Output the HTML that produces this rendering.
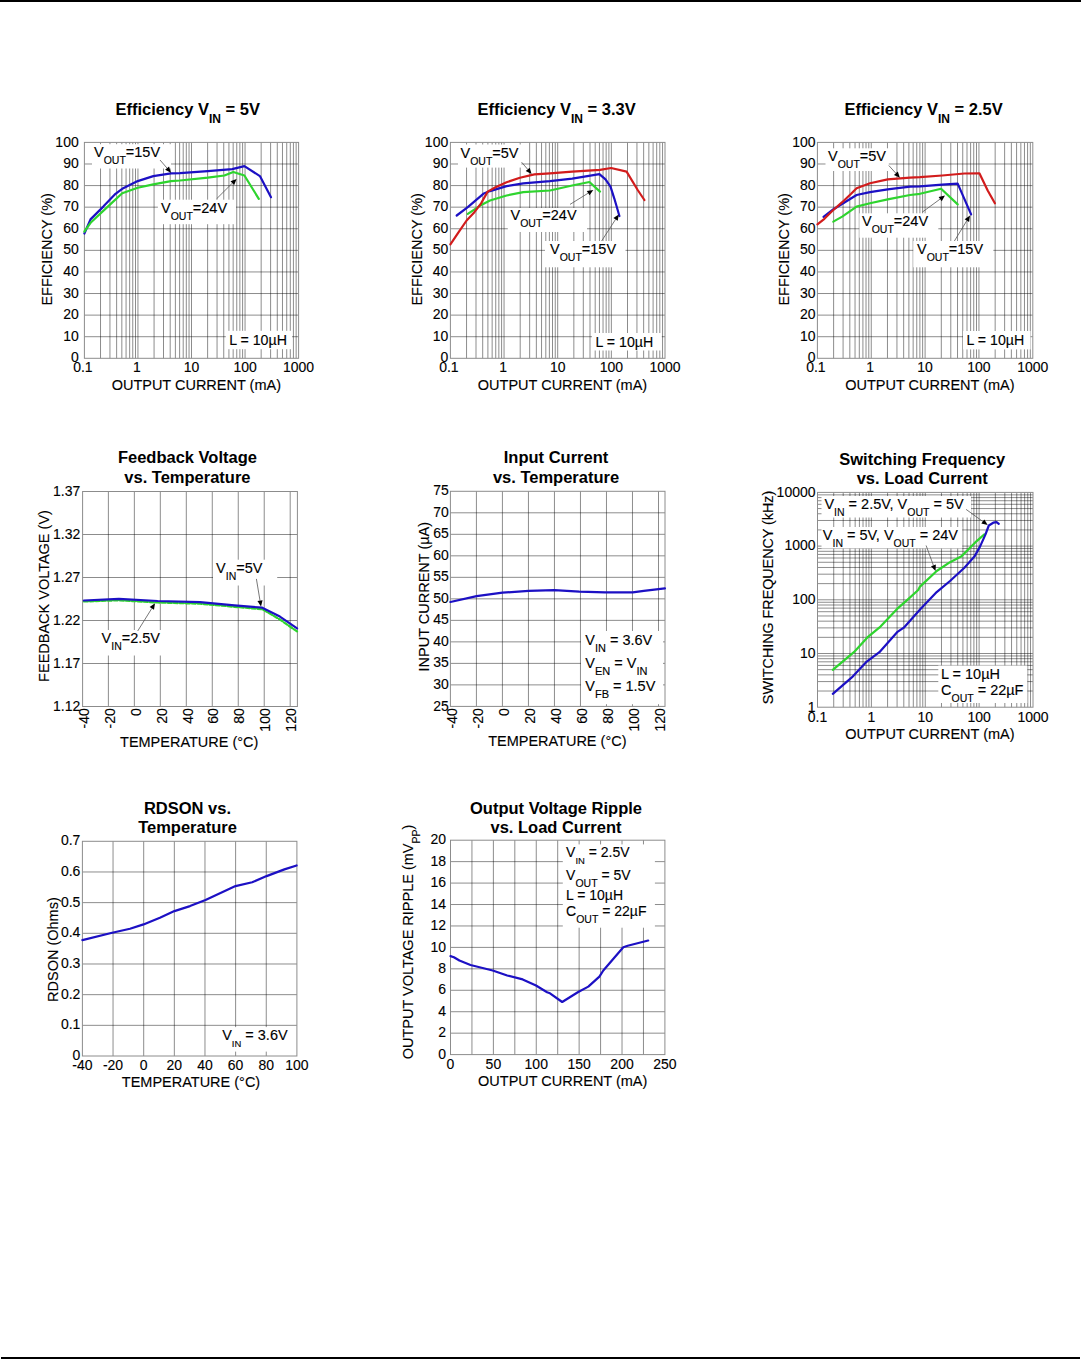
<!DOCTYPE html>
<html><head><meta charset="utf-8"><style>
html,body{margin:0;padding:0;background:#fff;}
body{width:1081px;height:1359px;overflow:hidden;}
svg{display:block;font-family:"Liberation Sans", sans-serif;}
</style></head><body>
<svg width="1081" height="1359" viewBox="0 0 1081 1359">
<rect width="100%" height="100%" fill="#fff"/>
<rect x="0" y="0" width="1081" height="2" fill="#000"/>
<rect x="1" y="1357" width="1079" height="2" fill="#000"/>
<line x1="100.52" y1="142.4" x2="100.52" y2="358.3" stroke="#000" stroke-opacity="0.45" stroke-width="1"/>
<line x1="109.95" y1="142.4" x2="109.95" y2="358.3" stroke="#000" stroke-opacity="0.45" stroke-width="1"/>
<line x1="116.64" y1="142.4" x2="116.64" y2="358.3" stroke="#000" stroke-opacity="0.45" stroke-width="1"/>
<line x1="121.83" y1="142.4" x2="121.83" y2="358.3" stroke="#000" stroke-opacity="0.45" stroke-width="1"/>
<line x1="126.07" y1="142.4" x2="126.07" y2="358.3" stroke="#000" stroke-opacity="0.45" stroke-width="1"/>
<line x1="129.66" y1="142.4" x2="129.66" y2="358.3" stroke="#000" stroke-opacity="0.45" stroke-width="1"/>
<line x1="132.76" y1="142.4" x2="132.76" y2="358.3" stroke="#000" stroke-opacity="0.45" stroke-width="1"/>
<line x1="135.5" y1="142.4" x2="135.5" y2="358.3" stroke="#000" stroke-opacity="0.45" stroke-width="1"/>
<line x1="137.95" y1="142.4" x2="137.95" y2="358.3" stroke="#000" stroke-opacity="0.45" stroke-width="1"/>
<line x1="154.07" y1="142.4" x2="154.07" y2="358.3" stroke="#000" stroke-opacity="0.45" stroke-width="1"/>
<line x1="163.5" y1="142.4" x2="163.5" y2="358.3" stroke="#000" stroke-opacity="0.45" stroke-width="1"/>
<line x1="170.19" y1="142.4" x2="170.19" y2="358.3" stroke="#000" stroke-opacity="0.45" stroke-width="1"/>
<line x1="175.38" y1="142.4" x2="175.38" y2="358.3" stroke="#000" stroke-opacity="0.45" stroke-width="1"/>
<line x1="179.62" y1="142.4" x2="179.62" y2="358.3" stroke="#000" stroke-opacity="0.45" stroke-width="1"/>
<line x1="183.21" y1="142.4" x2="183.21" y2="358.3" stroke="#000" stroke-opacity="0.45" stroke-width="1"/>
<line x1="186.31" y1="142.4" x2="186.31" y2="358.3" stroke="#000" stroke-opacity="0.45" stroke-width="1"/>
<line x1="189.05" y1="142.4" x2="189.05" y2="358.3" stroke="#000" stroke-opacity="0.45" stroke-width="1"/>
<line x1="191.5" y1="142.4" x2="191.5" y2="358.3" stroke="#000" stroke-opacity="0.45" stroke-width="1"/>
<line x1="207.62" y1="142.4" x2="207.62" y2="358.3" stroke="#000" stroke-opacity="0.45" stroke-width="1"/>
<line x1="217.05" y1="142.4" x2="217.05" y2="358.3" stroke="#000" stroke-opacity="0.45" stroke-width="1"/>
<line x1="223.74" y1="142.4" x2="223.74" y2="358.3" stroke="#000" stroke-opacity="0.45" stroke-width="1"/>
<line x1="228.93" y1="142.4" x2="228.93" y2="358.3" stroke="#000" stroke-opacity="0.45" stroke-width="1"/>
<line x1="233.17" y1="142.4" x2="233.17" y2="358.3" stroke="#000" stroke-opacity="0.45" stroke-width="1"/>
<line x1="236.76" y1="142.4" x2="236.76" y2="358.3" stroke="#000" stroke-opacity="0.45" stroke-width="1"/>
<line x1="239.86" y1="142.4" x2="239.86" y2="358.3" stroke="#000" stroke-opacity="0.45" stroke-width="1"/>
<line x1="242.6" y1="142.4" x2="242.6" y2="358.3" stroke="#000" stroke-opacity="0.45" stroke-width="1"/>
<line x1="245.05" y1="142.4" x2="245.05" y2="358.3" stroke="#000" stroke-opacity="0.45" stroke-width="1"/>
<line x1="261.17" y1="142.4" x2="261.17" y2="358.3" stroke="#000" stroke-opacity="0.45" stroke-width="1"/>
<line x1="270.6" y1="142.4" x2="270.6" y2="358.3" stroke="#000" stroke-opacity="0.45" stroke-width="1"/>
<line x1="277.29" y1="142.4" x2="277.29" y2="358.3" stroke="#000" stroke-opacity="0.45" stroke-width="1"/>
<line x1="282.48" y1="142.4" x2="282.48" y2="358.3" stroke="#000" stroke-opacity="0.45" stroke-width="1"/>
<line x1="286.72" y1="142.4" x2="286.72" y2="358.3" stroke="#000" stroke-opacity="0.45" stroke-width="1"/>
<line x1="290.31" y1="142.4" x2="290.31" y2="358.3" stroke="#000" stroke-opacity="0.45" stroke-width="1"/>
<line x1="293.41" y1="142.4" x2="293.41" y2="358.3" stroke="#000" stroke-opacity="0.45" stroke-width="1"/>
<line x1="296.15" y1="142.4" x2="296.15" y2="358.3" stroke="#000" stroke-opacity="0.45" stroke-width="1"/>
<line x1="84.4" y1="336.71" x2="298.6" y2="336.71" stroke="#000" stroke-opacity="0.45" stroke-width="1"/>
<line x1="84.4" y1="315.12" x2="298.6" y2="315.12" stroke="#000" stroke-opacity="0.45" stroke-width="1"/>
<line x1="84.4" y1="293.53" x2="298.6" y2="293.53" stroke="#000" stroke-opacity="0.45" stroke-width="1"/>
<line x1="84.4" y1="271.94" x2="298.6" y2="271.94" stroke="#000" stroke-opacity="0.45" stroke-width="1"/>
<line x1="84.4" y1="250.35" x2="298.6" y2="250.35" stroke="#000" stroke-opacity="0.45" stroke-width="1"/>
<line x1="84.4" y1="228.76" x2="298.6" y2="228.76" stroke="#000" stroke-opacity="0.45" stroke-width="1"/>
<line x1="84.4" y1="207.17" x2="298.6" y2="207.17" stroke="#000" stroke-opacity="0.45" stroke-width="1"/>
<line x1="84.4" y1="185.58" x2="298.6" y2="185.58" stroke="#000" stroke-opacity="0.45" stroke-width="1"/>
<line x1="84.4" y1="163.99" x2="298.6" y2="163.99" stroke="#000" stroke-opacity="0.45" stroke-width="1"/>
<rect x="84.4" y="142.4" width="214.2" height="215.9" fill="none" stroke="#8c8c8c" stroke-width="1"/>
<text x="0" y="0" font-size="14" text-anchor="end" font-weight="normal" fill="#000" stroke="#000" stroke-width="0.12" transform="translate(78.7 361.6) scale(1 1.04)"><tspan>0</tspan></text>
<text x="0" y="0" font-size="14" text-anchor="end" font-weight="normal" fill="#000" stroke="#000" stroke-width="0.12" transform="translate(78.7 340.81) scale(1 1.04)"><tspan>10</tspan></text>
<text x="0" y="0" font-size="14" text-anchor="end" font-weight="normal" fill="#000" stroke="#000" stroke-width="0.12" transform="translate(78.7 319.22) scale(1 1.04)"><tspan>20</tspan></text>
<text x="0" y="0" font-size="14" text-anchor="end" font-weight="normal" fill="#000" stroke="#000" stroke-width="0.12" transform="translate(78.7 297.63) scale(1 1.04)"><tspan>30</tspan></text>
<text x="0" y="0" font-size="14" text-anchor="end" font-weight="normal" fill="#000" stroke="#000" stroke-width="0.12" transform="translate(78.7 276.04) scale(1 1.04)"><tspan>40</tspan></text>
<text x="0" y="0" font-size="14" text-anchor="end" font-weight="normal" fill="#000" stroke="#000" stroke-width="0.12" transform="translate(78.7 254.45) scale(1 1.04)"><tspan>50</tspan></text>
<text x="0" y="0" font-size="14" text-anchor="end" font-weight="normal" fill="#000" stroke="#000" stroke-width="0.12" transform="translate(78.7 232.86) scale(1 1.04)"><tspan>60</tspan></text>
<text x="0" y="0" font-size="14" text-anchor="end" font-weight="normal" fill="#000" stroke="#000" stroke-width="0.12" transform="translate(78.7 211.27) scale(1 1.04)"><tspan>70</tspan></text>
<text x="0" y="0" font-size="14" text-anchor="end" font-weight="normal" fill="#000" stroke="#000" stroke-width="0.12" transform="translate(78.7 189.68) scale(1 1.04)"><tspan>80</tspan></text>
<text x="0" y="0" font-size="14" text-anchor="end" font-weight="normal" fill="#000" stroke="#000" stroke-width="0.12" transform="translate(78.7 168.09) scale(1 1.04)"><tspan>90</tspan></text>
<text x="0" y="0" font-size="14" text-anchor="end" font-weight="normal" fill="#000" stroke="#000" stroke-width="0.12" transform="translate(78.7 146.5) scale(1 1.04)"><tspan>100</tspan></text>
<text x="0" y="0" font-size="14" text-anchor="middle" font-weight="normal" fill="#000" stroke="#000" stroke-width="0.12" transform="translate(82.9 372.2) scale(1 1.04)"><tspan>0.1</tspan></text>
<text x="0" y="0" font-size="14" text-anchor="middle" font-weight="normal" fill="#000" stroke="#000" stroke-width="0.12" transform="translate(136.95 372.2) scale(1 1.04)"><tspan>1</tspan></text>
<text x="0" y="0" font-size="14" text-anchor="middle" font-weight="normal" fill="#000" stroke="#000" stroke-width="0.12" transform="translate(191.5 372.2) scale(1 1.04)"><tspan>10</tspan></text>
<text x="0" y="0" font-size="14" text-anchor="middle" font-weight="normal" fill="#000" stroke="#000" stroke-width="0.12" transform="translate(245.05 372.2) scale(1 1.04)"><tspan>100</tspan></text>
<text x="0" y="0" font-size="14" text-anchor="middle" font-weight="normal" fill="#000" stroke="#000" stroke-width="0.12" transform="translate(298.6 372.2) scale(1 1.04)"><tspan>1000</tspan></text>
<text x="0" y="0" font-size="14.5" text-anchor="middle" font-weight="normal" fill="#000" stroke="#000" stroke-width="0.12" transform="translate(196.3 389.6) scale(1 1.04)"><tspan>OUTPUT CURRENT (mA)</tspan></text>
<text x="0" y="0" font-size="14.5" text-anchor="middle" font-weight="normal" fill="#000" stroke="#000" stroke-width="0.12" transform="translate(51.6 249.35) rotate(-90) scale(1 1.04)"><tspan>EFFICIENCY (%)</tspan></text>
<text x="0" y="0" font-size="16.5" text-anchor="start" font-weight="bold" fill="#000" transform="translate(115.5 114.5) scale(1 1.04)"><tspan>Efficiency V</tspan><tspan font-size="12" dy="8">IN</tspan><tspan dy="-8"> = 5V</tspan></text>
<rect x="92" y="144.2" width="79" height="24.3" fill="#fff"/>
<rect x="157.9" y="199.7" width="78.1" height="24.5" fill="#fff"/>
<polyline points="84.4,233.5 90.5,219.4 103.3,206.6 115.5,193.8 122.2,188.8 137.7,181.1 153.3,176.1 171,173.3 180,173.1 207.8,171.1 232.2,169.1 244.4,166.1 259.9,176.1 271,197.2" fill="none" stroke="#1c10c4" stroke-width="2.2" stroke-linejoin="round" stroke-linecap="round"/>
<polyline points="84.4,231.5 91.1,222.2 107.8,206.6 122.2,193.3 137.7,187.8 153.3,184.4 171,181.1 180,180.5 207.8,177.7 224.4,175.5 233.3,172 244.4,175.5 258.8,198.8" fill="none" stroke="#2ed42e" stroke-width="2.2" stroke-linejoin="round" stroke-linecap="round"/>
<line x1="160" y1="160" x2="167.07" y2="168.16" stroke="#555" stroke-width="0.8"/>
<polygon points="171,172.7 165.11,169.87 169.04,166.46" fill="#000"/>
<line x1="216.6" y1="198.8" x2="232.35" y2="183.13" stroke="#555" stroke-width="0.8"/>
<polygon points="236.6,178.9 234.18,184.98 230.51,181.29" fill="#000"/>
<text x="0" y="0" font-size="14.5" text-anchor="start" font-weight="normal" fill="#000" stroke="#000" stroke-width="0.12" transform="translate(94 157.2) scale(1 1.04)"><tspan>V</tspan><tspan font-size="10.5" dy="6.8">OUT</tspan><tspan dy="-6.8">=15V</tspan></text>
<text x="0" y="0" font-size="14.5" text-anchor="start" font-weight="normal" fill="#000" stroke="#000" stroke-width="0.12" transform="translate(161 212.7) scale(1 1.04)"><tspan>V</tspan><tspan font-size="10.5" dy="6.8">OUT</tspan><tspan dy="-6.8">=24V</tspan></text>
<line x1="466.55" y1="142.4" x2="466.55" y2="358.3" stroke="#000" stroke-opacity="0.45" stroke-width="1"/>
<line x1="476" y1="142.4" x2="476" y2="358.3" stroke="#000" stroke-opacity="0.45" stroke-width="1"/>
<line x1="482.7" y1="142.4" x2="482.7" y2="358.3" stroke="#000" stroke-opacity="0.45" stroke-width="1"/>
<line x1="487.9" y1="142.4" x2="487.9" y2="358.3" stroke="#000" stroke-opacity="0.45" stroke-width="1"/>
<line x1="492.15" y1="142.4" x2="492.15" y2="358.3" stroke="#000" stroke-opacity="0.45" stroke-width="1"/>
<line x1="495.74" y1="142.4" x2="495.74" y2="358.3" stroke="#000" stroke-opacity="0.45" stroke-width="1"/>
<line x1="498.85" y1="142.4" x2="498.85" y2="358.3" stroke="#000" stroke-opacity="0.45" stroke-width="1"/>
<line x1="501.6" y1="142.4" x2="501.6" y2="358.3" stroke="#000" stroke-opacity="0.45" stroke-width="1"/>
<line x1="504.05" y1="142.4" x2="504.05" y2="358.3" stroke="#000" stroke-opacity="0.45" stroke-width="1"/>
<line x1="520.2" y1="142.4" x2="520.2" y2="358.3" stroke="#000" stroke-opacity="0.45" stroke-width="1"/>
<line x1="529.65" y1="142.4" x2="529.65" y2="358.3" stroke="#000" stroke-opacity="0.45" stroke-width="1"/>
<line x1="536.35" y1="142.4" x2="536.35" y2="358.3" stroke="#000" stroke-opacity="0.45" stroke-width="1"/>
<line x1="541.55" y1="142.4" x2="541.55" y2="358.3" stroke="#000" stroke-opacity="0.45" stroke-width="1"/>
<line x1="545.8" y1="142.4" x2="545.8" y2="358.3" stroke="#000" stroke-opacity="0.45" stroke-width="1"/>
<line x1="549.39" y1="142.4" x2="549.39" y2="358.3" stroke="#000" stroke-opacity="0.45" stroke-width="1"/>
<line x1="552.5" y1="142.4" x2="552.5" y2="358.3" stroke="#000" stroke-opacity="0.45" stroke-width="1"/>
<line x1="555.25" y1="142.4" x2="555.25" y2="358.3" stroke="#000" stroke-opacity="0.45" stroke-width="1"/>
<line x1="557.7" y1="142.4" x2="557.7" y2="358.3" stroke="#000" stroke-opacity="0.45" stroke-width="1"/>
<line x1="573.85" y1="142.4" x2="573.85" y2="358.3" stroke="#000" stroke-opacity="0.45" stroke-width="1"/>
<line x1="583.3" y1="142.4" x2="583.3" y2="358.3" stroke="#000" stroke-opacity="0.45" stroke-width="1"/>
<line x1="590" y1="142.4" x2="590" y2="358.3" stroke="#000" stroke-opacity="0.45" stroke-width="1"/>
<line x1="595.2" y1="142.4" x2="595.2" y2="358.3" stroke="#000" stroke-opacity="0.45" stroke-width="1"/>
<line x1="599.45" y1="142.4" x2="599.45" y2="358.3" stroke="#000" stroke-opacity="0.45" stroke-width="1"/>
<line x1="603.04" y1="142.4" x2="603.04" y2="358.3" stroke="#000" stroke-opacity="0.45" stroke-width="1"/>
<line x1="606.15" y1="142.4" x2="606.15" y2="358.3" stroke="#000" stroke-opacity="0.45" stroke-width="1"/>
<line x1="608.9" y1="142.4" x2="608.9" y2="358.3" stroke="#000" stroke-opacity="0.45" stroke-width="1"/>
<line x1="611.35" y1="142.4" x2="611.35" y2="358.3" stroke="#000" stroke-opacity="0.45" stroke-width="1"/>
<line x1="627.5" y1="142.4" x2="627.5" y2="358.3" stroke="#000" stroke-opacity="0.45" stroke-width="1"/>
<line x1="636.95" y1="142.4" x2="636.95" y2="358.3" stroke="#000" stroke-opacity="0.45" stroke-width="1"/>
<line x1="643.65" y1="142.4" x2="643.65" y2="358.3" stroke="#000" stroke-opacity="0.45" stroke-width="1"/>
<line x1="648.85" y1="142.4" x2="648.85" y2="358.3" stroke="#000" stroke-opacity="0.45" stroke-width="1"/>
<line x1="653.1" y1="142.4" x2="653.1" y2="358.3" stroke="#000" stroke-opacity="0.45" stroke-width="1"/>
<line x1="656.69" y1="142.4" x2="656.69" y2="358.3" stroke="#000" stroke-opacity="0.45" stroke-width="1"/>
<line x1="659.8" y1="142.4" x2="659.8" y2="358.3" stroke="#000" stroke-opacity="0.45" stroke-width="1"/>
<line x1="662.55" y1="142.4" x2="662.55" y2="358.3" stroke="#000" stroke-opacity="0.45" stroke-width="1"/>
<line x1="450.4" y1="336.71" x2="665" y2="336.71" stroke="#000" stroke-opacity="0.45" stroke-width="1"/>
<line x1="450.4" y1="315.12" x2="665" y2="315.12" stroke="#000" stroke-opacity="0.45" stroke-width="1"/>
<line x1="450.4" y1="293.53" x2="665" y2="293.53" stroke="#000" stroke-opacity="0.45" stroke-width="1"/>
<line x1="450.4" y1="271.94" x2="665" y2="271.94" stroke="#000" stroke-opacity="0.45" stroke-width="1"/>
<line x1="450.4" y1="250.35" x2="665" y2="250.35" stroke="#000" stroke-opacity="0.45" stroke-width="1"/>
<line x1="450.4" y1="228.76" x2="665" y2="228.76" stroke="#000" stroke-opacity="0.45" stroke-width="1"/>
<line x1="450.4" y1="207.17" x2="665" y2="207.17" stroke="#000" stroke-opacity="0.45" stroke-width="1"/>
<line x1="450.4" y1="185.58" x2="665" y2="185.58" stroke="#000" stroke-opacity="0.45" stroke-width="1"/>
<line x1="450.4" y1="163.99" x2="665" y2="163.99" stroke="#000" stroke-opacity="0.45" stroke-width="1"/>
<rect x="450.4" y="142.4" width="214.6" height="215.9" fill="none" stroke="#8c8c8c" stroke-width="1"/>
<text x="0" y="0" font-size="14" text-anchor="end" font-weight="normal" fill="#000" stroke="#000" stroke-width="0.12" transform="translate(448.2 361.6) scale(1 1.04)"><tspan>0</tspan></text>
<text x="0" y="0" font-size="14" text-anchor="end" font-weight="normal" fill="#000" stroke="#000" stroke-width="0.12" transform="translate(448.2 340.81) scale(1 1.04)"><tspan>10</tspan></text>
<text x="0" y="0" font-size="14" text-anchor="end" font-weight="normal" fill="#000" stroke="#000" stroke-width="0.12" transform="translate(448.2 319.22) scale(1 1.04)"><tspan>20</tspan></text>
<text x="0" y="0" font-size="14" text-anchor="end" font-weight="normal" fill="#000" stroke="#000" stroke-width="0.12" transform="translate(448.2 297.63) scale(1 1.04)"><tspan>30</tspan></text>
<text x="0" y="0" font-size="14" text-anchor="end" font-weight="normal" fill="#000" stroke="#000" stroke-width="0.12" transform="translate(448.2 276.04) scale(1 1.04)"><tspan>40</tspan></text>
<text x="0" y="0" font-size="14" text-anchor="end" font-weight="normal" fill="#000" stroke="#000" stroke-width="0.12" transform="translate(448.2 254.45) scale(1 1.04)"><tspan>50</tspan></text>
<text x="0" y="0" font-size="14" text-anchor="end" font-weight="normal" fill="#000" stroke="#000" stroke-width="0.12" transform="translate(448.2 232.86) scale(1 1.04)"><tspan>60</tspan></text>
<text x="0" y="0" font-size="14" text-anchor="end" font-weight="normal" fill="#000" stroke="#000" stroke-width="0.12" transform="translate(448.2 211.27) scale(1 1.04)"><tspan>70</tspan></text>
<text x="0" y="0" font-size="14" text-anchor="end" font-weight="normal" fill="#000" stroke="#000" stroke-width="0.12" transform="translate(448.2 189.68) scale(1 1.04)"><tspan>80</tspan></text>
<text x="0" y="0" font-size="14" text-anchor="end" font-weight="normal" fill="#000" stroke="#000" stroke-width="0.12" transform="translate(448.2 168.09) scale(1 1.04)"><tspan>90</tspan></text>
<text x="0" y="0" font-size="14" text-anchor="end" font-weight="normal" fill="#000" stroke="#000" stroke-width="0.12" transform="translate(448.2 146.5) scale(1 1.04)"><tspan>100</tspan></text>
<text x="0" y="0" font-size="14" text-anchor="middle" font-weight="normal" fill="#000" stroke="#000" stroke-width="0.12" transform="translate(448.9 372.2) scale(1 1.04)"><tspan>0.1</tspan></text>
<text x="0" y="0" font-size="14" text-anchor="middle" font-weight="normal" fill="#000" stroke="#000" stroke-width="0.12" transform="translate(503.05 372.2) scale(1 1.04)"><tspan>1</tspan></text>
<text x="0" y="0" font-size="14" text-anchor="middle" font-weight="normal" fill="#000" stroke="#000" stroke-width="0.12" transform="translate(557.7 372.2) scale(1 1.04)"><tspan>10</tspan></text>
<text x="0" y="0" font-size="14" text-anchor="middle" font-weight="normal" fill="#000" stroke="#000" stroke-width="0.12" transform="translate(611.35 372.2) scale(1 1.04)"><tspan>100</tspan></text>
<text x="0" y="0" font-size="14" text-anchor="middle" font-weight="normal" fill="#000" stroke="#000" stroke-width="0.12" transform="translate(665 372.2) scale(1 1.04)"><tspan>1000</tspan></text>
<text x="0" y="0" font-size="14.5" text-anchor="middle" font-weight="normal" fill="#000" stroke="#000" stroke-width="0.12" transform="translate(562.5 389.6) scale(1 1.04)"><tspan>OUTPUT CURRENT (mA)</tspan></text>
<text x="0" y="0" font-size="14.5" text-anchor="middle" font-weight="normal" fill="#000" stroke="#000" stroke-width="0.12" transform="translate(421.6 249.35) rotate(-90) scale(1 1.04)"><tspan>EFFICIENCY (%)</tspan></text>
<text x="0" y="0" font-size="16.5" text-anchor="start" font-weight="bold" fill="#000" transform="translate(477.5 115) scale(1 1.04)"><tspan>Efficiency V</tspan><tspan font-size="12" dy="8">IN</tspan><tspan dy="-8"> = 3.3V</tspan></text>
<rect x="458" y="144.5" width="63.3" height="23.1" fill="#fff"/>
<rect x="507.8" y="208" width="79.2" height="24" fill="#fff"/>
<rect x="545" y="241" width="80.5" height="26.3" fill="#fff"/>
<polyline points="456.7,215.5 467.8,207.2 483.3,193.8 490,191.1 506.6,186.1 523.3,183.3 550,181.1 572.2,178.6 599.4,174.1 605.5,179.4 610.5,186.6 614.4,198.8 619.4,216" fill="none" stroke="#1c10c4" stroke-width="2.2" stroke-linejoin="round" stroke-linecap="round"/>
<polyline points="467.8,213.8 482.2,204.4 490,200.5 506.6,195.5 523.3,192.2 550,190.5 572.2,185.5 589.4,182 600,191.6" fill="none" stroke="#2ed42e" stroke-width="2.2" stroke-linejoin="round" stroke-linecap="round"/>
<polyline points="450.4,244.4 457.8,233.3 466.6,220.5 474.4,212.2 481.1,203.3 487.7,191.6 495.5,187.2 506.6,182.2 519.9,177.7 534.4,174.4 550,173.3 572.2,171.6 600,169.8 611.1,168 626.6,171.6 637.7,190 644.4,200" fill="none" stroke="#d21c1c" stroke-width="2.2" stroke-linejoin="round" stroke-linecap="round"/>
<line x1="521.6" y1="162.2" x2="527.7" y2="169.34" stroke="#555" stroke-width="0.8"/>
<polygon points="531.6,173.9 525.73,171.03 529.68,167.65" fill="#000"/>
<line x1="570" y1="204.4" x2="588.2" y2="193.15" stroke="#555" stroke-width="0.8"/>
<polygon points="593.3,190 589.56,195.37 586.83,190.94" fill="#000"/>
<line x1="601.6" y1="241" x2="615.54" y2="219.44" stroke="#555" stroke-width="0.8"/>
<polygon points="618.8,214.4 617.73,220.85 613.36,218.03" fill="#000"/>
<text x="0" y="0" font-size="14.5" text-anchor="start" font-weight="normal" fill="#000" stroke="#000" stroke-width="0.12" transform="translate(460.5 157.8) scale(1 1.04)"><tspan>V</tspan><tspan font-size="10.5" dy="6.8">OUT</tspan><tspan dy="-6.8">=5V</tspan></text>
<text x="0" y="0" font-size="14.5" text-anchor="start" font-weight="normal" fill="#000" stroke="#000" stroke-width="0.12" transform="translate(510.5 219.5) scale(1 1.04)"><tspan>V</tspan><tspan font-size="10.5" dy="6.8">OUT</tspan><tspan dy="-6.8">=24V</tspan></text>
<text x="0" y="0" font-size="14.5" text-anchor="start" font-weight="normal" fill="#000" stroke="#000" stroke-width="0.12" transform="translate(550 254) scale(1 1.04)"><tspan>V</tspan><tspan font-size="10.5" dy="6.8">OUT</tspan><tspan dy="-6.8">=15V</tspan></text>
<line x1="833.61" y1="142.4" x2="833.61" y2="358.3" stroke="#000" stroke-opacity="0.45" stroke-width="1"/>
<line x1="843.09" y1="142.4" x2="843.09" y2="358.3" stroke="#000" stroke-opacity="0.45" stroke-width="1"/>
<line x1="849.82" y1="142.4" x2="849.82" y2="358.3" stroke="#000" stroke-opacity="0.45" stroke-width="1"/>
<line x1="855.04" y1="142.4" x2="855.04" y2="358.3" stroke="#000" stroke-opacity="0.45" stroke-width="1"/>
<line x1="859.3" y1="142.4" x2="859.3" y2="358.3" stroke="#000" stroke-opacity="0.45" stroke-width="1"/>
<line x1="862.91" y1="142.4" x2="862.91" y2="358.3" stroke="#000" stroke-opacity="0.45" stroke-width="1"/>
<line x1="866.03" y1="142.4" x2="866.03" y2="358.3" stroke="#000" stroke-opacity="0.45" stroke-width="1"/>
<line x1="868.79" y1="142.4" x2="868.79" y2="358.3" stroke="#000" stroke-opacity="0.45" stroke-width="1"/>
<line x1="871.25" y1="142.4" x2="871.25" y2="358.3" stroke="#000" stroke-opacity="0.45" stroke-width="1"/>
<line x1="887.46" y1="142.4" x2="887.46" y2="358.3" stroke="#000" stroke-opacity="0.45" stroke-width="1"/>
<line x1="896.94" y1="142.4" x2="896.94" y2="358.3" stroke="#000" stroke-opacity="0.45" stroke-width="1"/>
<line x1="903.67" y1="142.4" x2="903.67" y2="358.3" stroke="#000" stroke-opacity="0.45" stroke-width="1"/>
<line x1="908.89" y1="142.4" x2="908.89" y2="358.3" stroke="#000" stroke-opacity="0.45" stroke-width="1"/>
<line x1="913.15" y1="142.4" x2="913.15" y2="358.3" stroke="#000" stroke-opacity="0.45" stroke-width="1"/>
<line x1="916.76" y1="142.4" x2="916.76" y2="358.3" stroke="#000" stroke-opacity="0.45" stroke-width="1"/>
<line x1="919.88" y1="142.4" x2="919.88" y2="358.3" stroke="#000" stroke-opacity="0.45" stroke-width="1"/>
<line x1="922.64" y1="142.4" x2="922.64" y2="358.3" stroke="#000" stroke-opacity="0.45" stroke-width="1"/>
<line x1="925.1" y1="142.4" x2="925.1" y2="358.3" stroke="#000" stroke-opacity="0.45" stroke-width="1"/>
<line x1="941.31" y1="142.4" x2="941.31" y2="358.3" stroke="#000" stroke-opacity="0.45" stroke-width="1"/>
<line x1="950.79" y1="142.4" x2="950.79" y2="358.3" stroke="#000" stroke-opacity="0.45" stroke-width="1"/>
<line x1="957.52" y1="142.4" x2="957.52" y2="358.3" stroke="#000" stroke-opacity="0.45" stroke-width="1"/>
<line x1="962.74" y1="142.4" x2="962.74" y2="358.3" stroke="#000" stroke-opacity="0.45" stroke-width="1"/>
<line x1="967" y1="142.4" x2="967" y2="358.3" stroke="#000" stroke-opacity="0.45" stroke-width="1"/>
<line x1="970.61" y1="142.4" x2="970.61" y2="358.3" stroke="#000" stroke-opacity="0.45" stroke-width="1"/>
<line x1="973.73" y1="142.4" x2="973.73" y2="358.3" stroke="#000" stroke-opacity="0.45" stroke-width="1"/>
<line x1="976.49" y1="142.4" x2="976.49" y2="358.3" stroke="#000" stroke-opacity="0.45" stroke-width="1"/>
<line x1="978.95" y1="142.4" x2="978.95" y2="358.3" stroke="#000" stroke-opacity="0.45" stroke-width="1"/>
<line x1="995.16" y1="142.4" x2="995.16" y2="358.3" stroke="#000" stroke-opacity="0.45" stroke-width="1"/>
<line x1="1004.64" y1="142.4" x2="1004.64" y2="358.3" stroke="#000" stroke-opacity="0.45" stroke-width="1"/>
<line x1="1011.37" y1="142.4" x2="1011.37" y2="358.3" stroke="#000" stroke-opacity="0.45" stroke-width="1"/>
<line x1="1016.59" y1="142.4" x2="1016.59" y2="358.3" stroke="#000" stroke-opacity="0.45" stroke-width="1"/>
<line x1="1020.85" y1="142.4" x2="1020.85" y2="358.3" stroke="#000" stroke-opacity="0.45" stroke-width="1"/>
<line x1="1024.46" y1="142.4" x2="1024.46" y2="358.3" stroke="#000" stroke-opacity="0.45" stroke-width="1"/>
<line x1="1027.58" y1="142.4" x2="1027.58" y2="358.3" stroke="#000" stroke-opacity="0.45" stroke-width="1"/>
<line x1="1030.34" y1="142.4" x2="1030.34" y2="358.3" stroke="#000" stroke-opacity="0.45" stroke-width="1"/>
<line x1="817.4" y1="336.71" x2="1032.8" y2="336.71" stroke="#000" stroke-opacity="0.45" stroke-width="1"/>
<line x1="817.4" y1="315.12" x2="1032.8" y2="315.12" stroke="#000" stroke-opacity="0.45" stroke-width="1"/>
<line x1="817.4" y1="293.53" x2="1032.8" y2="293.53" stroke="#000" stroke-opacity="0.45" stroke-width="1"/>
<line x1="817.4" y1="271.94" x2="1032.8" y2="271.94" stroke="#000" stroke-opacity="0.45" stroke-width="1"/>
<line x1="817.4" y1="250.35" x2="1032.8" y2="250.35" stroke="#000" stroke-opacity="0.45" stroke-width="1"/>
<line x1="817.4" y1="228.76" x2="1032.8" y2="228.76" stroke="#000" stroke-opacity="0.45" stroke-width="1"/>
<line x1="817.4" y1="207.17" x2="1032.8" y2="207.17" stroke="#000" stroke-opacity="0.45" stroke-width="1"/>
<line x1="817.4" y1="185.58" x2="1032.8" y2="185.58" stroke="#000" stroke-opacity="0.45" stroke-width="1"/>
<line x1="817.4" y1="163.99" x2="1032.8" y2="163.99" stroke="#000" stroke-opacity="0.45" stroke-width="1"/>
<rect x="817.4" y="142.4" width="215.4" height="215.9" fill="none" stroke="#8c8c8c" stroke-width="1"/>
<text x="0" y="0" font-size="14" text-anchor="end" font-weight="normal" fill="#000" stroke="#000" stroke-width="0.12" transform="translate(815.5 361.6) scale(1 1.04)"><tspan>0</tspan></text>
<text x="0" y="0" font-size="14" text-anchor="end" font-weight="normal" fill="#000" stroke="#000" stroke-width="0.12" transform="translate(815.5 340.81) scale(1 1.04)"><tspan>10</tspan></text>
<text x="0" y="0" font-size="14" text-anchor="end" font-weight="normal" fill="#000" stroke="#000" stroke-width="0.12" transform="translate(815.5 319.22) scale(1 1.04)"><tspan>20</tspan></text>
<text x="0" y="0" font-size="14" text-anchor="end" font-weight="normal" fill="#000" stroke="#000" stroke-width="0.12" transform="translate(815.5 297.63) scale(1 1.04)"><tspan>30</tspan></text>
<text x="0" y="0" font-size="14" text-anchor="end" font-weight="normal" fill="#000" stroke="#000" stroke-width="0.12" transform="translate(815.5 276.04) scale(1 1.04)"><tspan>40</tspan></text>
<text x="0" y="0" font-size="14" text-anchor="end" font-weight="normal" fill="#000" stroke="#000" stroke-width="0.12" transform="translate(815.5 254.45) scale(1 1.04)"><tspan>50</tspan></text>
<text x="0" y="0" font-size="14" text-anchor="end" font-weight="normal" fill="#000" stroke="#000" stroke-width="0.12" transform="translate(815.5 232.86) scale(1 1.04)"><tspan>60</tspan></text>
<text x="0" y="0" font-size="14" text-anchor="end" font-weight="normal" fill="#000" stroke="#000" stroke-width="0.12" transform="translate(815.5 211.27) scale(1 1.04)"><tspan>70</tspan></text>
<text x="0" y="0" font-size="14" text-anchor="end" font-weight="normal" fill="#000" stroke="#000" stroke-width="0.12" transform="translate(815.5 189.68) scale(1 1.04)"><tspan>80</tspan></text>
<text x="0" y="0" font-size="14" text-anchor="end" font-weight="normal" fill="#000" stroke="#000" stroke-width="0.12" transform="translate(815.5 168.09) scale(1 1.04)"><tspan>90</tspan></text>
<text x="0" y="0" font-size="14" text-anchor="end" font-weight="normal" fill="#000" stroke="#000" stroke-width="0.12" transform="translate(815.5 146.5) scale(1 1.04)"><tspan>100</tspan></text>
<text x="0" y="0" font-size="14" text-anchor="middle" font-weight="normal" fill="#000" stroke="#000" stroke-width="0.12" transform="translate(815.9 372.2) scale(1 1.04)"><tspan>0.1</tspan></text>
<text x="0" y="0" font-size="14" text-anchor="middle" font-weight="normal" fill="#000" stroke="#000" stroke-width="0.12" transform="translate(870.25 372.2) scale(1 1.04)"><tspan>1</tspan></text>
<text x="0" y="0" font-size="14" text-anchor="middle" font-weight="normal" fill="#000" stroke="#000" stroke-width="0.12" transform="translate(925.1 372.2) scale(1 1.04)"><tspan>10</tspan></text>
<text x="0" y="0" font-size="14" text-anchor="middle" font-weight="normal" fill="#000" stroke="#000" stroke-width="0.12" transform="translate(978.95 372.2) scale(1 1.04)"><tspan>100</tspan></text>
<text x="0" y="0" font-size="14" text-anchor="middle" font-weight="normal" fill="#000" stroke="#000" stroke-width="0.12" transform="translate(1032.8 372.2) scale(1 1.04)"><tspan>1000</tspan></text>
<text x="0" y="0" font-size="14.5" text-anchor="middle" font-weight="normal" fill="#000" stroke="#000" stroke-width="0.12" transform="translate(929.9 389.6) scale(1 1.04)"><tspan>OUTPUT CURRENT (mA)</tspan></text>
<text x="0" y="0" font-size="14.5" text-anchor="middle" font-weight="normal" fill="#000" stroke="#000" stroke-width="0.12" transform="translate(789.4 249.35) rotate(-90) scale(1 1.04)"><tspan>EFFICIENCY (%)</tspan></text>
<text x="0" y="0" font-size="16.5" text-anchor="start" font-weight="bold" fill="#000" transform="translate(844.5 115) scale(1 1.04)"><tspan>Efficiency V</tspan><tspan font-size="12" dy="8">IN</tspan><tspan dy="-8"> = 2.5V</tspan></text>
<rect x="825.5" y="148.3" width="63.3" height="22.7" fill="#fff"/>
<rect x="859.4" y="213.3" width="78.9" height="24.4" fill="#fff"/>
<rect x="913.3" y="241" width="80" height="26.3" fill="#fff"/>
<polyline points="823.5,216.8 833.5,209.2 856.6,195 870,192.2 887.7,189.4 910,186.6 920,186.4 942.2,184.6 957.7,183.6 971.1,214.4" fill="none" stroke="#1c10c4" stroke-width="2.2" stroke-linejoin="round" stroke-linecap="round"/>
<polyline points="833.3,221.6 842.2,216.6 856.6,206.6 870,203.3 887.7,199.4 910,195 920,193.8 941.1,188.8 957.7,204.4" fill="none" stroke="#2ed42e" stroke-width="2.2" stroke-linejoin="round" stroke-linecap="round"/>
<polyline points="817.4,224.4 824.4,218.8 832.2,211 842.2,202.2 851.1,193.8 856.6,188.3 870,183.3 887.7,179.4 910,177.7 920,177.2 942.2,175.5 964.4,173.5 979.4,173.3 987.7,190.5 994.9,203.3" fill="none" stroke="#d21c1c" stroke-width="2.2" stroke-linejoin="round" stroke-linecap="round"/>
<line x1="888.8" y1="165.5" x2="895.86" y2="173.26" stroke="#555" stroke-width="0.8"/>
<polygon points="899.9,177.7 893.94,175.01 897.79,171.51" fill="#000"/>
<line x1="922.2" y1="212.2" x2="940.16" y2="199.05" stroke="#555" stroke-width="0.8"/>
<polygon points="945,195.5 941.7,201.14 938.62,196.95" fill="#000"/>
<line x1="954.4" y1="241" x2="966.87" y2="220.62" stroke="#555" stroke-width="0.8"/>
<polygon points="970,215.5 969.09,221.98 964.65,219.26" fill="#000"/>
<text x="0" y="0" font-size="14.5" text-anchor="start" font-weight="normal" fill="#000" stroke="#000" stroke-width="0.12" transform="translate(828 161) scale(1 1.04)"><tspan>V</tspan><tspan font-size="10.5" dy="6.8">OUT</tspan><tspan dy="-6.8">=5V</tspan></text>
<text x="0" y="0" font-size="14.5" text-anchor="start" font-weight="normal" fill="#000" stroke="#000" stroke-width="0.12" transform="translate(862 226.4) scale(1 1.04)"><tspan>V</tspan><tspan font-size="10.5" dy="6.8">OUT</tspan><tspan dy="-6.8">=24V</tspan></text>
<text x="0" y="0" font-size="14.5" text-anchor="start" font-weight="normal" fill="#000" stroke="#000" stroke-width="0.12" transform="translate(917 254) scale(1 1.04)"><tspan>V</tspan><tspan font-size="10.5" dy="6.8">OUT</tspan><tspan dy="-6.8">=15V</tspan></text>
<line x1="108.38" y1="491.5" x2="108.38" y2="706.5" stroke="#000" stroke-opacity="0.45" stroke-width="1"/>
<line x1="134.35" y1="491.5" x2="134.35" y2="706.5" stroke="#000" stroke-opacity="0.45" stroke-width="1"/>
<line x1="160.32" y1="491.5" x2="160.32" y2="706.5" stroke="#000" stroke-opacity="0.45" stroke-width="1"/>
<line x1="186.3" y1="491.5" x2="186.3" y2="706.5" stroke="#000" stroke-opacity="0.45" stroke-width="1"/>
<line x1="212.28" y1="491.5" x2="212.28" y2="706.5" stroke="#000" stroke-opacity="0.45" stroke-width="1"/>
<line x1="238.25" y1="491.5" x2="238.25" y2="706.5" stroke="#000" stroke-opacity="0.45" stroke-width="1"/>
<line x1="264.23" y1="491.5" x2="264.23" y2="706.5" stroke="#000" stroke-opacity="0.45" stroke-width="1"/>
<line x1="290.2" y1="491.5" x2="290.2" y2="706.5" stroke="#000" stroke-opacity="0.45" stroke-width="1"/>
<line x1="82.6" y1="663.5" x2="297.4" y2="663.5" stroke="#000" stroke-opacity="0.45" stroke-width="1"/>
<line x1="82.6" y1="620.5" x2="297.4" y2="620.5" stroke="#000" stroke-opacity="0.45" stroke-width="1"/>
<line x1="82.6" y1="577.5" x2="297.4" y2="577.5" stroke="#000" stroke-opacity="0.45" stroke-width="1"/>
<line x1="82.6" y1="534.5" x2="297.4" y2="534.5" stroke="#000" stroke-opacity="0.45" stroke-width="1"/>
<rect x="82.6" y="491.5" width="214.8" height="215" fill="none" stroke="#8c8c8c" stroke-width="1"/>
<text x="0" y="0" font-size="14" text-anchor="end" font-weight="normal" fill="#000" stroke="#000" stroke-width="0.12" transform="translate(80.2 710.6) scale(1 1.04)"><tspan>1.12</tspan></text>
<text x="0" y="0" font-size="14" text-anchor="end" font-weight="normal" fill="#000" stroke="#000" stroke-width="0.12" transform="translate(80.2 667.6) scale(1 1.04)"><tspan>1.17</tspan></text>
<text x="0" y="0" font-size="14" text-anchor="end" font-weight="normal" fill="#000" stroke="#000" stroke-width="0.12" transform="translate(80.2 624.6) scale(1 1.04)"><tspan>1.22</tspan></text>
<text x="0" y="0" font-size="14" text-anchor="end" font-weight="normal" fill="#000" stroke="#000" stroke-width="0.12" transform="translate(80.2 581.6) scale(1 1.04)"><tspan>1.27</tspan></text>
<text x="0" y="0" font-size="14" text-anchor="end" font-weight="normal" fill="#000" stroke="#000" stroke-width="0.12" transform="translate(80.2 538.6) scale(1 1.04)"><tspan>1.32</tspan></text>
<text x="0" y="0" font-size="14" text-anchor="end" font-weight="normal" fill="#000" stroke="#000" stroke-width="0.12" transform="translate(80.2 495.6) scale(1 1.04)"><tspan>1.37</tspan></text>
<text x="0" y="0" font-size="14" text-anchor="end" font-weight="normal" fill="#000" stroke="#000" stroke-width="0.12" transform="translate(88.6 708.3) rotate(-90) scale(1 1.04)"><tspan>-40</tspan></text>
<text x="0" y="0" font-size="14" text-anchor="end" font-weight="normal" fill="#000" stroke="#000" stroke-width="0.12" transform="translate(114.58 708.3) rotate(-90) scale(1 1.04)"><tspan>-20</tspan></text>
<text x="0" y="0" font-size="14" text-anchor="end" font-weight="normal" fill="#000" stroke="#000" stroke-width="0.12" transform="translate(140.55 708.3) rotate(-90) scale(1 1.04)"><tspan>0</tspan></text>
<text x="0" y="0" font-size="14" text-anchor="end" font-weight="normal" fill="#000" stroke="#000" stroke-width="0.12" transform="translate(166.52 708.3) rotate(-90) scale(1 1.04)"><tspan>20</tspan></text>
<text x="0" y="0" font-size="14" text-anchor="end" font-weight="normal" fill="#000" stroke="#000" stroke-width="0.12" transform="translate(192.5 708.3) rotate(-90) scale(1 1.04)"><tspan>40</tspan></text>
<text x="0" y="0" font-size="14" text-anchor="end" font-weight="normal" fill="#000" stroke="#000" stroke-width="0.12" transform="translate(218.47 708.3) rotate(-90) scale(1 1.04)"><tspan>60</tspan></text>
<text x="0" y="0" font-size="14" text-anchor="end" font-weight="normal" fill="#000" stroke="#000" stroke-width="0.12" transform="translate(244.45 708.3) rotate(-90) scale(1 1.04)"><tspan>80</tspan></text>
<text x="0" y="0" font-size="14" text-anchor="end" font-weight="normal" fill="#000" stroke="#000" stroke-width="0.12" transform="translate(270.43 708.3) rotate(-90) scale(1 1.04)"><tspan>100</tspan></text>
<text x="0" y="0" font-size="14" text-anchor="end" font-weight="normal" fill="#000" stroke="#000" stroke-width="0.12" transform="translate(296.4 708.3) rotate(-90) scale(1 1.04)"><tspan>120</tspan></text>
<text x="0" y="0" font-size="14.5" text-anchor="middle" font-weight="normal" fill="#000" stroke="#000" stroke-width="0.12" transform="translate(189.2 746.5) scale(1 1.04)"><tspan>TEMPERATURE (°C)</tspan></text>
<text x="0" y="0" font-size="14.5" text-anchor="middle" font-weight="normal" fill="#000" stroke="#000" stroke-width="0.12" transform="translate(48.9 596) rotate(-90) scale(1 1.04)"><tspan>FEEDBACK VOLTAGE (V)</tspan></text>
<text x="0" y="0" font-size="16.5" text-anchor="middle" font-weight="bold" fill="#000" transform="translate(187.4 462.8) scale(1 1.04)"><tspan>Feedback Voltage</tspan></text>
<text x="0" y="0" font-size="16.5" text-anchor="middle" font-weight="bold" fill="#000" transform="translate(187.4 483) scale(1 1.04)"><tspan>vs. Temperature</tspan></text>
<rect x="213" y="559.7" width="64.2" height="25.8" fill="#fff"/>
<rect x="100" y="630" width="65" height="25.5" fill="#fff"/>
<polyline points="83.9,601.5 118.9,600.3 157.7,602.5 200,603.7 234.4,606.8 262.2,609.2 279.9,619.5 297.1,631.5" fill="none" stroke="#2ed42e" stroke-width="2.2" stroke-linejoin="round" stroke-linecap="round" stroke-dasharray="4 2"/>
<polyline points="83.9,600.5 118.9,598.8 157.7,601 200,602.2 234.4,605.3 262.2,607.7 279.9,616.6 297.1,628.3" fill="none" stroke="#1c10c4" stroke-width="2.2" stroke-linejoin="round" stroke-linecap="round"/>
<line x1="137.7" y1="631" x2="151.82" y2="608.39" stroke="#555" stroke-width="0.8"/>
<polygon points="155,603.3 154.03,609.77 149.62,607.01" fill="#000"/>
<line x1="256.4" y1="578.9" x2="260.02" y2="600.68" stroke="#555" stroke-width="0.8"/>
<polygon points="261,606.6 257.45,601.11 262.58,600.26" fill="#000"/>
<text x="0" y="0" font-size="14.5" text-anchor="start" font-weight="normal" fill="#000" stroke="#000" stroke-width="0.12" transform="translate(101.6 643) scale(1 1.04)"><tspan>V</tspan><tspan font-size="10.5" dy="6.8">IN</tspan><tspan dy="-6.8">=2.5V</tspan></text>
<text x="0" y="0" font-size="14.5" text-anchor="start" font-weight="normal" fill="#000" stroke="#000" stroke-width="0.12" transform="translate(216.1 573.3) scale(1 1.04)"><tspan>V</tspan><tspan font-size="10.5" dy="6.8">IN</tspan><tspan dy="-6.8">=5V</tspan></text>
<line x1="476.41" y1="491.3" x2="476.41" y2="706.4" stroke="#000" stroke-opacity="0.45" stroke-width="1"/>
<line x1="502.42" y1="491.3" x2="502.42" y2="706.4" stroke="#000" stroke-opacity="0.45" stroke-width="1"/>
<line x1="528.44" y1="491.3" x2="528.44" y2="706.4" stroke="#000" stroke-opacity="0.45" stroke-width="1"/>
<line x1="554.45" y1="491.3" x2="554.45" y2="706.4" stroke="#000" stroke-opacity="0.45" stroke-width="1"/>
<line x1="580.46" y1="491.3" x2="580.46" y2="706.4" stroke="#000" stroke-opacity="0.45" stroke-width="1"/>
<line x1="606.47" y1="491.3" x2="606.47" y2="706.4" stroke="#000" stroke-opacity="0.45" stroke-width="1"/>
<line x1="632.48" y1="491.3" x2="632.48" y2="706.4" stroke="#000" stroke-opacity="0.45" stroke-width="1"/>
<line x1="658.5" y1="491.3" x2="658.5" y2="706.4" stroke="#000" stroke-opacity="0.45" stroke-width="1"/>
<line x1="450.4" y1="684.89" x2="665" y2="684.89" stroke="#000" stroke-opacity="0.45" stroke-width="1"/>
<line x1="450.4" y1="663.38" x2="665" y2="663.38" stroke="#000" stroke-opacity="0.45" stroke-width="1"/>
<line x1="450.4" y1="641.87" x2="665" y2="641.87" stroke="#000" stroke-opacity="0.45" stroke-width="1"/>
<line x1="450.4" y1="620.36" x2="665" y2="620.36" stroke="#000" stroke-opacity="0.45" stroke-width="1"/>
<line x1="450.4" y1="598.85" x2="665" y2="598.85" stroke="#000" stroke-opacity="0.45" stroke-width="1"/>
<line x1="450.4" y1="577.34" x2="665" y2="577.34" stroke="#000" stroke-opacity="0.45" stroke-width="1"/>
<line x1="450.4" y1="555.83" x2="665" y2="555.83" stroke="#000" stroke-opacity="0.45" stroke-width="1"/>
<line x1="450.4" y1="534.32" x2="665" y2="534.32" stroke="#000" stroke-opacity="0.45" stroke-width="1"/>
<line x1="450.4" y1="512.81" x2="665" y2="512.81" stroke="#000" stroke-opacity="0.45" stroke-width="1"/>
<rect x="450.4" y="491.3" width="214.6" height="215.1" fill="none" stroke="#8c8c8c" stroke-width="1"/>
<text x="0" y="0" font-size="14" text-anchor="end" font-weight="normal" fill="#000" stroke="#000" stroke-width="0.12" transform="translate(448.9 710.5) scale(1 1.04)"><tspan>25</tspan></text>
<text x="0" y="0" font-size="14" text-anchor="end" font-weight="normal" fill="#000" stroke="#000" stroke-width="0.12" transform="translate(448.9 688.99) scale(1 1.04)"><tspan>30</tspan></text>
<text x="0" y="0" font-size="14" text-anchor="end" font-weight="normal" fill="#000" stroke="#000" stroke-width="0.12" transform="translate(448.9 667.48) scale(1 1.04)"><tspan>35</tspan></text>
<text x="0" y="0" font-size="14" text-anchor="end" font-weight="normal" fill="#000" stroke="#000" stroke-width="0.12" transform="translate(448.9 645.97) scale(1 1.04)"><tspan>40</tspan></text>
<text x="0" y="0" font-size="14" text-anchor="end" font-weight="normal" fill="#000" stroke="#000" stroke-width="0.12" transform="translate(448.9 624.46) scale(1 1.04)"><tspan>45</tspan></text>
<text x="0" y="0" font-size="14" text-anchor="end" font-weight="normal" fill="#000" stroke="#000" stroke-width="0.12" transform="translate(448.9 602.95) scale(1 1.04)"><tspan>50</tspan></text>
<text x="0" y="0" font-size="14" text-anchor="end" font-weight="normal" fill="#000" stroke="#000" stroke-width="0.12" transform="translate(448.9 581.44) scale(1 1.04)"><tspan>55</tspan></text>
<text x="0" y="0" font-size="14" text-anchor="end" font-weight="normal" fill="#000" stroke="#000" stroke-width="0.12" transform="translate(448.9 559.93) scale(1 1.04)"><tspan>60</tspan></text>
<text x="0" y="0" font-size="14" text-anchor="end" font-weight="normal" fill="#000" stroke="#000" stroke-width="0.12" transform="translate(448.9 538.42) scale(1 1.04)"><tspan>65</tspan></text>
<text x="0" y="0" font-size="14" text-anchor="end" font-weight="normal" fill="#000" stroke="#000" stroke-width="0.12" transform="translate(448.9 516.91) scale(1 1.04)"><tspan>70</tspan></text>
<text x="0" y="0" font-size="14" text-anchor="end" font-weight="normal" fill="#000" stroke="#000" stroke-width="0.12" transform="translate(448.9 495.4) scale(1 1.04)"><tspan>75</tspan></text>
<text x="0" y="0" font-size="14" text-anchor="end" font-weight="normal" fill="#000" stroke="#000" stroke-width="0.12" transform="translate(456.6 708.2) rotate(-90) scale(1 1.04)"><tspan>-40</tspan></text>
<text x="0" y="0" font-size="14" text-anchor="end" font-weight="normal" fill="#000" stroke="#000" stroke-width="0.12" transform="translate(482.61 708.2) rotate(-90) scale(1 1.04)"><tspan>-20</tspan></text>
<text x="0" y="0" font-size="14" text-anchor="end" font-weight="normal" fill="#000" stroke="#000" stroke-width="0.12" transform="translate(508.62 708.2) rotate(-90) scale(1 1.04)"><tspan>0</tspan></text>
<text x="0" y="0" font-size="14" text-anchor="end" font-weight="normal" fill="#000" stroke="#000" stroke-width="0.12" transform="translate(534.64 708.2) rotate(-90) scale(1 1.04)"><tspan>20</tspan></text>
<text x="0" y="0" font-size="14" text-anchor="end" font-weight="normal" fill="#000" stroke="#000" stroke-width="0.12" transform="translate(560.65 708.2) rotate(-90) scale(1 1.04)"><tspan>40</tspan></text>
<text x="0" y="0" font-size="14" text-anchor="end" font-weight="normal" fill="#000" stroke="#000" stroke-width="0.12" transform="translate(586.66 708.2) rotate(-90) scale(1 1.04)"><tspan>60</tspan></text>
<text x="0" y="0" font-size="14" text-anchor="end" font-weight="normal" fill="#000" stroke="#000" stroke-width="0.12" transform="translate(612.67 708.2) rotate(-90) scale(1 1.04)"><tspan>80</tspan></text>
<text x="0" y="0" font-size="14" text-anchor="end" font-weight="normal" fill="#000" stroke="#000" stroke-width="0.12" transform="translate(638.68 708.2) rotate(-90) scale(1 1.04)"><tspan>100</tspan></text>
<text x="0" y="0" font-size="14" text-anchor="end" font-weight="normal" fill="#000" stroke="#000" stroke-width="0.12" transform="translate(664.7 708.2) rotate(-90) scale(1 1.04)"><tspan>120</tspan></text>
<text x="0" y="0" font-size="14.5" text-anchor="middle" font-weight="normal" fill="#000" stroke="#000" stroke-width="0.12" transform="translate(557.3 745.6) scale(1 1.04)"><tspan>TEMPERATURE (°C)</tspan></text>
<text x="0" y="0" font-size="14.5" text-anchor="middle" font-weight="normal" fill="#000" stroke="#000" stroke-width="0.12" transform="translate(429.3 596.7) rotate(-90) scale(1 1.04)"><tspan>INPUT CURRENT (µA)</tspan></text>
<text x="0" y="0" font-size="16.5" text-anchor="middle" font-weight="bold" fill="#000" transform="translate(556 463.3) scale(1 1.04)"><tspan>Input Current</tspan></text>
<text x="0" y="0" font-size="16.5" text-anchor="middle" font-weight="bold" fill="#000" transform="translate(556 482.7) scale(1 1.04)"><tspan>vs. Temperature</tspan></text>
<rect x="581" y="631" width="82" height="73.2" fill="#fff"/>
<polyline points="450.4,602 476.6,596.1 502.5,592.7 528.5,590.9 554.3,590.2 579.4,591.6 605,592.4 632.7,592.4 643.8,590.9 664.9,588.3" fill="none" stroke="#1c10c4" stroke-width="2.2" stroke-linejoin="round" stroke-linecap="round"/>
<text x="0" y="0" font-size="14.5" text-anchor="start" font-weight="normal" fill="#000" stroke="#000" stroke-width="0.12" transform="translate(585.3 645) scale(1 1.04)"><tspan>V</tspan><tspan font-size="11" dy="6.8">IN</tspan><tspan dy="-6.8"> = 3.6V</tspan></text>
<text x="0" y="0" font-size="14.5" text-anchor="start" font-weight="normal" fill="#000" stroke="#000" stroke-width="0.12" transform="translate(585.3 668.1) scale(1 1.04)"><tspan>V</tspan><tspan font-size="11" dy="6.8">EN</tspan><tspan dy="-6.8"> = V</tspan><tspan font-size="11" dy="6.8">IN</tspan></text>
<text x="0" y="0" font-size="14.5" text-anchor="start" font-weight="normal" fill="#000" stroke="#000" stroke-width="0.12" transform="translate(585.3 691.2) scale(1 1.04)"><tspan>V</tspan><tspan font-size="11" dy="6.8">FB</tspan><tspan dy="-6.8"> = 1.5V</tspan></text>
<line x1="833.72" y1="492.4" x2="833.72" y2="707.2" stroke="#000" stroke-opacity="0.45" stroke-width="1"/>
<line x1="843.2" y1="492.4" x2="843.2" y2="707.2" stroke="#000" stroke-opacity="0.45" stroke-width="1"/>
<line x1="849.94" y1="492.4" x2="849.94" y2="707.2" stroke="#000" stroke-opacity="0.45" stroke-width="1"/>
<line x1="855.16" y1="492.4" x2="855.16" y2="707.2" stroke="#000" stroke-opacity="0.45" stroke-width="1"/>
<line x1="859.42" y1="492.4" x2="859.42" y2="707.2" stroke="#000" stroke-opacity="0.45" stroke-width="1"/>
<line x1="863.03" y1="492.4" x2="863.03" y2="707.2" stroke="#000" stroke-opacity="0.45" stroke-width="1"/>
<line x1="866.15" y1="492.4" x2="866.15" y2="707.2" stroke="#000" stroke-opacity="0.45" stroke-width="1"/>
<line x1="868.91" y1="492.4" x2="868.91" y2="707.2" stroke="#000" stroke-opacity="0.45" stroke-width="1"/>
<line x1="871.38" y1="492.4" x2="871.38" y2="707.2" stroke="#000" stroke-opacity="0.45" stroke-width="1"/>
<line x1="887.59" y1="492.4" x2="887.59" y2="707.2" stroke="#000" stroke-opacity="0.45" stroke-width="1"/>
<line x1="897.08" y1="492.4" x2="897.08" y2="707.2" stroke="#000" stroke-opacity="0.45" stroke-width="1"/>
<line x1="903.81" y1="492.4" x2="903.81" y2="707.2" stroke="#000" stroke-opacity="0.45" stroke-width="1"/>
<line x1="909.03" y1="492.4" x2="909.03" y2="707.2" stroke="#000" stroke-opacity="0.45" stroke-width="1"/>
<line x1="913.3" y1="492.4" x2="913.3" y2="707.2" stroke="#000" stroke-opacity="0.45" stroke-width="1"/>
<line x1="916.9" y1="492.4" x2="916.9" y2="707.2" stroke="#000" stroke-opacity="0.45" stroke-width="1"/>
<line x1="920.03" y1="492.4" x2="920.03" y2="707.2" stroke="#000" stroke-opacity="0.45" stroke-width="1"/>
<line x1="922.78" y1="492.4" x2="922.78" y2="707.2" stroke="#000" stroke-opacity="0.45" stroke-width="1"/>
<line x1="925.25" y1="492.4" x2="925.25" y2="707.2" stroke="#000" stroke-opacity="0.45" stroke-width="1"/>
<line x1="941.47" y1="492.4" x2="941.47" y2="707.2" stroke="#000" stroke-opacity="0.45" stroke-width="1"/>
<line x1="950.95" y1="492.4" x2="950.95" y2="707.2" stroke="#000" stroke-opacity="0.45" stroke-width="1"/>
<line x1="957.69" y1="492.4" x2="957.69" y2="707.2" stroke="#000" stroke-opacity="0.45" stroke-width="1"/>
<line x1="962.91" y1="492.4" x2="962.91" y2="707.2" stroke="#000" stroke-opacity="0.45" stroke-width="1"/>
<line x1="967.17" y1="492.4" x2="967.17" y2="707.2" stroke="#000" stroke-opacity="0.45" stroke-width="1"/>
<line x1="970.78" y1="492.4" x2="970.78" y2="707.2" stroke="#000" stroke-opacity="0.45" stroke-width="1"/>
<line x1="973.9" y1="492.4" x2="973.9" y2="707.2" stroke="#000" stroke-opacity="0.45" stroke-width="1"/>
<line x1="976.66" y1="492.4" x2="976.66" y2="707.2" stroke="#000" stroke-opacity="0.45" stroke-width="1"/>
<line x1="979.12" y1="492.4" x2="979.12" y2="707.2" stroke="#000" stroke-opacity="0.45" stroke-width="1"/>
<line x1="995.34" y1="492.4" x2="995.34" y2="707.2" stroke="#000" stroke-opacity="0.45" stroke-width="1"/>
<line x1="1004.83" y1="492.4" x2="1004.83" y2="707.2" stroke="#000" stroke-opacity="0.45" stroke-width="1"/>
<line x1="1011.56" y1="492.4" x2="1011.56" y2="707.2" stroke="#000" stroke-opacity="0.45" stroke-width="1"/>
<line x1="1016.78" y1="492.4" x2="1016.78" y2="707.2" stroke="#000" stroke-opacity="0.45" stroke-width="1"/>
<line x1="1021.05" y1="492.4" x2="1021.05" y2="707.2" stroke="#000" stroke-opacity="0.45" stroke-width="1"/>
<line x1="1024.65" y1="492.4" x2="1024.65" y2="707.2" stroke="#000" stroke-opacity="0.45" stroke-width="1"/>
<line x1="1027.78" y1="492.4" x2="1027.78" y2="707.2" stroke="#000" stroke-opacity="0.45" stroke-width="1"/>
<line x1="1030.53" y1="492.4" x2="1030.53" y2="707.2" stroke="#000" stroke-opacity="0.45" stroke-width="1"/>
<line x1="817.5" y1="691.03" x2="1033" y2="691.03" stroke="#000" stroke-opacity="0.45" stroke-width="1"/>
<line x1="817.5" y1="681.58" x2="1033" y2="681.58" stroke="#000" stroke-opacity="0.45" stroke-width="1"/>
<line x1="817.5" y1="674.87" x2="1033" y2="674.87" stroke="#000" stroke-opacity="0.45" stroke-width="1"/>
<line x1="817.5" y1="669.67" x2="1033" y2="669.67" stroke="#000" stroke-opacity="0.45" stroke-width="1"/>
<line x1="817.5" y1="665.41" x2="1033" y2="665.41" stroke="#000" stroke-opacity="0.45" stroke-width="1"/>
<line x1="817.5" y1="661.82" x2="1033" y2="661.82" stroke="#000" stroke-opacity="0.45" stroke-width="1"/>
<line x1="817.5" y1="658.7" x2="1033" y2="658.7" stroke="#000" stroke-opacity="0.45" stroke-width="1"/>
<line x1="817.5" y1="655.96" x2="1033" y2="655.96" stroke="#000" stroke-opacity="0.45" stroke-width="1"/>
<line x1="817.5" y1="653.5" x2="1033" y2="653.5" stroke="#000" stroke-opacity="0.45" stroke-width="1"/>
<line x1="817.5" y1="637.33" x2="1033" y2="637.33" stroke="#000" stroke-opacity="0.45" stroke-width="1"/>
<line x1="817.5" y1="627.88" x2="1033" y2="627.88" stroke="#000" stroke-opacity="0.45" stroke-width="1"/>
<line x1="817.5" y1="621.17" x2="1033" y2="621.17" stroke="#000" stroke-opacity="0.45" stroke-width="1"/>
<line x1="817.5" y1="615.97" x2="1033" y2="615.97" stroke="#000" stroke-opacity="0.45" stroke-width="1"/>
<line x1="817.5" y1="611.71" x2="1033" y2="611.71" stroke="#000" stroke-opacity="0.45" stroke-width="1"/>
<line x1="817.5" y1="608.12" x2="1033" y2="608.12" stroke="#000" stroke-opacity="0.45" stroke-width="1"/>
<line x1="817.5" y1="605" x2="1033" y2="605" stroke="#000" stroke-opacity="0.45" stroke-width="1"/>
<line x1="817.5" y1="602.26" x2="1033" y2="602.26" stroke="#000" stroke-opacity="0.45" stroke-width="1"/>
<line x1="817.5" y1="599.8" x2="1033" y2="599.8" stroke="#000" stroke-opacity="0.45" stroke-width="1"/>
<line x1="817.5" y1="583.63" x2="1033" y2="583.63" stroke="#000" stroke-opacity="0.45" stroke-width="1"/>
<line x1="817.5" y1="574.18" x2="1033" y2="574.18" stroke="#000" stroke-opacity="0.45" stroke-width="1"/>
<line x1="817.5" y1="567.47" x2="1033" y2="567.47" stroke="#000" stroke-opacity="0.45" stroke-width="1"/>
<line x1="817.5" y1="562.27" x2="1033" y2="562.27" stroke="#000" stroke-opacity="0.45" stroke-width="1"/>
<line x1="817.5" y1="558.01" x2="1033" y2="558.01" stroke="#000" stroke-opacity="0.45" stroke-width="1"/>
<line x1="817.5" y1="554.42" x2="1033" y2="554.42" stroke="#000" stroke-opacity="0.45" stroke-width="1"/>
<line x1="817.5" y1="551.3" x2="1033" y2="551.3" stroke="#000" stroke-opacity="0.45" stroke-width="1"/>
<line x1="817.5" y1="548.56" x2="1033" y2="548.56" stroke="#000" stroke-opacity="0.45" stroke-width="1"/>
<line x1="817.5" y1="546.1" x2="1033" y2="546.1" stroke="#000" stroke-opacity="0.45" stroke-width="1"/>
<line x1="817.5" y1="529.93" x2="1033" y2="529.93" stroke="#000" stroke-opacity="0.45" stroke-width="1"/>
<line x1="817.5" y1="520.48" x2="1033" y2="520.48" stroke="#000" stroke-opacity="0.45" stroke-width="1"/>
<line x1="817.5" y1="513.77" x2="1033" y2="513.77" stroke="#000" stroke-opacity="0.45" stroke-width="1"/>
<line x1="817.5" y1="508.57" x2="1033" y2="508.57" stroke="#000" stroke-opacity="0.45" stroke-width="1"/>
<line x1="817.5" y1="504.31" x2="1033" y2="504.31" stroke="#000" stroke-opacity="0.45" stroke-width="1"/>
<line x1="817.5" y1="500.72" x2="1033" y2="500.72" stroke="#000" stroke-opacity="0.45" stroke-width="1"/>
<line x1="817.5" y1="497.6" x2="1033" y2="497.6" stroke="#000" stroke-opacity="0.45" stroke-width="1"/>
<line x1="817.5" y1="494.86" x2="1033" y2="494.86" stroke="#000" stroke-opacity="0.45" stroke-width="1"/>
<rect x="817.5" y="492.4" width="215.5" height="214.8" fill="none" stroke="#8c8c8c" stroke-width="1"/>
<text x="0" y="0" font-size="14" text-anchor="end" font-weight="normal" fill="#000" stroke="#000" stroke-width="0.12" transform="translate(815.5 712.3) scale(1 1.04)"><tspan>1</tspan></text>
<text x="0" y="0" font-size="14" text-anchor="end" font-weight="normal" fill="#000" stroke="#000" stroke-width="0.12" transform="translate(815.5 657.6) scale(1 1.04)"><tspan>10</tspan></text>
<text x="0" y="0" font-size="14" text-anchor="end" font-weight="normal" fill="#000" stroke="#000" stroke-width="0.12" transform="translate(815.5 603.9) scale(1 1.04)"><tspan>100</tspan></text>
<text x="0" y="0" font-size="14" text-anchor="end" font-weight="normal" fill="#000" stroke="#000" stroke-width="0.12" transform="translate(815.5 550.2) scale(1 1.04)"><tspan>1000</tspan></text>
<text x="0" y="0" font-size="14" text-anchor="end" font-weight="normal" fill="#000" stroke="#000" stroke-width="0.12" transform="translate(815.5 496.5) scale(1 1.04)"><tspan>10000</tspan></text>
<text x="0" y="0" font-size="14" text-anchor="middle" font-weight="normal" fill="#000" stroke="#000" stroke-width="0.12" transform="translate(817.5 721.5) scale(1 1.04)"><tspan>0.1</tspan></text>
<text x="0" y="0" font-size="14" text-anchor="middle" font-weight="normal" fill="#000" stroke="#000" stroke-width="0.12" transform="translate(871.38 721.5) scale(1 1.04)"><tspan>1</tspan></text>
<text x="0" y="0" font-size="14" text-anchor="middle" font-weight="normal" fill="#000" stroke="#000" stroke-width="0.12" transform="translate(925.25 721.5) scale(1 1.04)"><tspan>10</tspan></text>
<text x="0" y="0" font-size="14" text-anchor="middle" font-weight="normal" fill="#000" stroke="#000" stroke-width="0.12" transform="translate(979.12 721.5) scale(1 1.04)"><tspan>100</tspan></text>
<text x="0" y="0" font-size="14" text-anchor="middle" font-weight="normal" fill="#000" stroke="#000" stroke-width="0.12" transform="translate(1033 721.5) scale(1 1.04)"><tspan>1000</tspan></text>
<text x="0" y="0" font-size="14.5" text-anchor="middle" font-weight="normal" fill="#000" stroke="#000" stroke-width="0.12" transform="translate(929.9 738.5) scale(1 1.04)"><tspan>OUTPUT CURRENT (mA)</tspan></text>
<text x="0" y="0" font-size="14.3" text-anchor="middle" font-weight="normal" fill="#000" stroke="#000" stroke-width="0.12" transform="translate(772.5 597.5) rotate(-90) scale(1 1.04)"><tspan>SWITCHING FREQUENCY (kHz)</tspan></text>
<text x="0" y="0" font-size="16.5" text-anchor="middle" font-weight="bold" fill="#000" transform="translate(922.2 464.5) scale(1 1.04)"><tspan>Switching Frequency</tspan></text>
<text x="0" y="0" font-size="16.5" text-anchor="middle" font-weight="bold" fill="#000" transform="translate(922.2 484.4) scale(1 1.04)"><tspan>vs. Load Current</tspan></text>
<rect x="821.5" y="496" width="149.5" height="21.5" fill="#fff"/>
<rect x="821.5" y="527" width="140.7" height="21.5" fill="#fff"/>
<polyline points="832.8,669.9 853.9,652.2 868.3,636.6 880.5,626.6 897.1,608.9 906,601.1 918.2,590 920,586.6 936.7,571 950,562.2 961.1,556.6 975.5,542.2 984.4,534.4" fill="none" stroke="#2ed42e" stroke-width="2.2" stroke-linejoin="round" stroke-linecap="round"/>
<polyline points="832.8,693.8 852.7,676.6 866.1,662.2 879.4,652.2 897.1,632.2 903.8,627.7 920.5,608.9 936.7,592.1 950,581 964.4,567.7 974.4,556.6 980,546.6 985.5,534.4 988.8,525.5 993.3,522.7 996.6,522.2 998.8,523.9" fill="none" stroke="#1c10c4" stroke-width="2.2" stroke-linejoin="round" stroke-linecap="round"/>
<line x1="966.1" y1="509.4" x2="982.84" y2="521.49" stroke="#555" stroke-width="0.8"/>
<polygon points="987.7,525 981.31,523.59 984.36,519.38" fill="#000"/>
<line x1="926.1" y1="545.5" x2="933.42" y2="565.37" stroke="#555" stroke-width="0.8"/>
<polygon points="935.5,571 930.99,566.27 935.86,564.47" fill="#000"/>
<text x="0" y="0" font-size="14.5" text-anchor="start" font-weight="normal" fill="#000" stroke="#000" stroke-width="0.12" transform="translate(824.4 509.4) scale(1 0.96)"><tspan>V</tspan><tspan font-size="10.5" dy="6.8">IN</tspan><tspan dy="-6.8"> = 2.5V, V</tspan><tspan font-size="10.5" dy="6.8">OUT</tspan><tspan dy="-6.8"> = 5V</tspan></text>
<text x="0" y="0" font-size="14.5" text-anchor="start" font-weight="normal" fill="#000" stroke="#000" stroke-width="0.12" transform="translate(822.8 540.2) scale(1 0.96)"><tspan>V</tspan><tspan font-size="10.5" dy="6.8">IN</tspan><tspan dy="-6.8"> = 5V, V</tspan><tspan font-size="10.5" dy="6.8">OUT</tspan><tspan dy="-6.8"> = 24V</tspan></text>
<rect x="938.3" y="665.5" width="89" height="37.5" fill="#fff"/>
<text x="0" y="0" font-size="14.5" text-anchor="start" font-weight="normal" fill="#000" stroke="#000" stroke-width="0.12" transform="translate(941 678.6) scale(1 1.04)"><tspan>L = 10µH</tspan></text>
<text x="0" y="0" font-size="14.5" text-anchor="start" font-weight="normal" fill="#000" stroke="#000" stroke-width="0.12" transform="translate(941 694.8) scale(1 1.04)"><tspan>C</tspan><tspan font-size="10.5" dy="6.8">OUT</tspan><tspan dy="-6.8"> = 22µF</tspan></text>
<line x1="113.04" y1="841.3" x2="113.04" y2="1056" stroke="#000" stroke-opacity="0.45" stroke-width="1"/>
<line x1="143.69" y1="841.3" x2="143.69" y2="1056" stroke="#000" stroke-opacity="0.45" stroke-width="1"/>
<line x1="174.33" y1="841.3" x2="174.33" y2="1056" stroke="#000" stroke-opacity="0.45" stroke-width="1"/>
<line x1="204.97" y1="841.3" x2="204.97" y2="1056" stroke="#000" stroke-opacity="0.45" stroke-width="1"/>
<line x1="235.61" y1="841.3" x2="235.61" y2="1056" stroke="#000" stroke-opacity="0.45" stroke-width="1"/>
<line x1="266.26" y1="841.3" x2="266.26" y2="1056" stroke="#000" stroke-opacity="0.45" stroke-width="1"/>
<line x1="82.4" y1="1025.33" x2="296.9" y2="1025.33" stroke="#000" stroke-opacity="0.45" stroke-width="1"/>
<line x1="82.4" y1="994.66" x2="296.9" y2="994.66" stroke="#000" stroke-opacity="0.45" stroke-width="1"/>
<line x1="82.4" y1="963.99" x2="296.9" y2="963.99" stroke="#000" stroke-opacity="0.45" stroke-width="1"/>
<line x1="82.4" y1="933.31" x2="296.9" y2="933.31" stroke="#000" stroke-opacity="0.45" stroke-width="1"/>
<line x1="82.4" y1="902.64" x2="296.9" y2="902.64" stroke="#000" stroke-opacity="0.45" stroke-width="1"/>
<line x1="82.4" y1="871.97" x2="296.9" y2="871.97" stroke="#000" stroke-opacity="0.45" stroke-width="1"/>
<rect x="82.4" y="841.3" width="214.5" height="214.7" fill="none" stroke="#8c8c8c" stroke-width="1"/>
<text x="0" y="0" font-size="14" text-anchor="end" font-weight="normal" fill="#000" stroke="#000" stroke-width="0.12" transform="translate(80.4 1060.1) scale(1 1.04)"><tspan>0</tspan></text>
<text x="0" y="0" font-size="14" text-anchor="end" font-weight="normal" fill="#000" stroke="#000" stroke-width="0.12" transform="translate(80.4 1029.43) scale(1 1.04)"><tspan>0.1</tspan></text>
<text x="0" y="0" font-size="14" text-anchor="end" font-weight="normal" fill="#000" stroke="#000" stroke-width="0.12" transform="translate(80.4 998.76) scale(1 1.04)"><tspan>0.2</tspan></text>
<text x="0" y="0" font-size="14" text-anchor="end" font-weight="normal" fill="#000" stroke="#000" stroke-width="0.12" transform="translate(80.4 968.09) scale(1 1.04)"><tspan>0.3</tspan></text>
<text x="0" y="0" font-size="14" text-anchor="end" font-weight="normal" fill="#000" stroke="#000" stroke-width="0.12" transform="translate(80.4 937.41) scale(1 1.04)"><tspan>0.4</tspan></text>
<text x="0" y="0" font-size="14" text-anchor="end" font-weight="normal" fill="#000" stroke="#000" stroke-width="0.12" transform="translate(80.4 906.74) scale(1 1.04)"><tspan>0.5</tspan></text>
<text x="0" y="0" font-size="14" text-anchor="end" font-weight="normal" fill="#000" stroke="#000" stroke-width="0.12" transform="translate(80.4 876.07) scale(1 1.04)"><tspan>0.6</tspan></text>
<text x="0" y="0" font-size="14" text-anchor="end" font-weight="normal" fill="#000" stroke="#000" stroke-width="0.12" transform="translate(80.4 845.4) scale(1 1.04)"><tspan>0.7</tspan></text>
<text x="0" y="0" font-size="14" text-anchor="middle" font-weight="normal" fill="#000" stroke="#000" stroke-width="0.12" transform="translate(82.4 1070.3) scale(1 1.04)"><tspan>-40</tspan></text>
<text x="0" y="0" font-size="14" text-anchor="middle" font-weight="normal" fill="#000" stroke="#000" stroke-width="0.12" transform="translate(113.04 1070.3) scale(1 1.04)"><tspan>-20</tspan></text>
<text x="0" y="0" font-size="14" text-anchor="middle" font-weight="normal" fill="#000" stroke="#000" stroke-width="0.12" transform="translate(143.69 1070.3) scale(1 1.04)"><tspan>0</tspan></text>
<text x="0" y="0" font-size="14" text-anchor="middle" font-weight="normal" fill="#000" stroke="#000" stroke-width="0.12" transform="translate(174.33 1070.3) scale(1 1.04)"><tspan>20</tspan></text>
<text x="0" y="0" font-size="14" text-anchor="middle" font-weight="normal" fill="#000" stroke="#000" stroke-width="0.12" transform="translate(204.97 1070.3) scale(1 1.04)"><tspan>40</tspan></text>
<text x="0" y="0" font-size="14" text-anchor="middle" font-weight="normal" fill="#000" stroke="#000" stroke-width="0.12" transform="translate(235.61 1070.3) scale(1 1.04)"><tspan>60</tspan></text>
<text x="0" y="0" font-size="14" text-anchor="middle" font-weight="normal" fill="#000" stroke="#000" stroke-width="0.12" transform="translate(266.26 1070.3) scale(1 1.04)"><tspan>80</tspan></text>
<text x="0" y="0" font-size="14" text-anchor="middle" font-weight="normal" fill="#000" stroke="#000" stroke-width="0.12" transform="translate(296.9 1070.3) scale(1 1.04)"><tspan>100</tspan></text>
<text x="0" y="0" font-size="14.5" text-anchor="middle" font-weight="normal" fill="#000" stroke="#000" stroke-width="0.12" transform="translate(191 1087) scale(1 1.04)"><tspan>TEMPERATURE (°C)</tspan></text>
<text x="0" y="0" font-size="14.5" text-anchor="middle" font-weight="normal" fill="#000" stroke="#000" stroke-width="0.12" transform="translate(57.8 949.6) rotate(-90) scale(1 1.04)"><tspan>RDSON (Ohms)</tspan></text>
<text x="0" y="0" font-size="16.5" text-anchor="middle" font-weight="bold" fill="#000" transform="translate(187.5 813.6) scale(1 1.04)"><tspan>RDSON vs.</tspan></text>
<text x="0" y="0" font-size="16.5" text-anchor="middle" font-weight="bold" fill="#000" transform="translate(187.5 833) scale(1 1.04)"><tspan>Temperature</tspan></text>
<rect x="206" y="1027.1" width="89" height="24.5" fill="#fff"/>
<polyline points="82.4,940.1 112.2,932.7 130,928.8 143.5,924.4 159.9,917.7 174.4,911.1 190,906.1 205.5,900 235.5,886.1 252.2,882.2 266.6,876.1 284.4,869.4 296.6,865.5" fill="none" stroke="#1c10c4" stroke-width="2.2" stroke-linejoin="round" stroke-linecap="round"/>
<text x="0" y="0" font-size="14.5" text-anchor="start" font-weight="normal" fill="#000" stroke="#000" stroke-width="0.12" transform="translate(222.2 1039.6) scale(1 1.04)"><tspan>V</tspan><tspan font-size="9.45" dy="6.8">IN</tspan><tspan dy="-6.8"> = 3.6V</tspan></text>
<line x1="471.94" y1="840.2" x2="471.94" y2="1054.6" stroke="#000" stroke-opacity="0.45" stroke-width="1"/>
<line x1="493.38" y1="840.2" x2="493.38" y2="1054.6" stroke="#000" stroke-opacity="0.45" stroke-width="1"/>
<line x1="514.82" y1="840.2" x2="514.82" y2="1054.6" stroke="#000" stroke-opacity="0.45" stroke-width="1"/>
<line x1="536.26" y1="840.2" x2="536.26" y2="1054.6" stroke="#000" stroke-opacity="0.45" stroke-width="1"/>
<line x1="557.7" y1="840.2" x2="557.7" y2="1054.6" stroke="#000" stroke-opacity="0.45" stroke-width="1"/>
<line x1="579.14" y1="840.2" x2="579.14" y2="1054.6" stroke="#000" stroke-opacity="0.45" stroke-width="1"/>
<line x1="600.58" y1="840.2" x2="600.58" y2="1054.6" stroke="#000" stroke-opacity="0.45" stroke-width="1"/>
<line x1="622.02" y1="840.2" x2="622.02" y2="1054.6" stroke="#000" stroke-opacity="0.45" stroke-width="1"/>
<line x1="643.46" y1="840.2" x2="643.46" y2="1054.6" stroke="#000" stroke-opacity="0.45" stroke-width="1"/>
<line x1="450.5" y1="1033.16" x2="664.9" y2="1033.16" stroke="#000" stroke-opacity="0.45" stroke-width="1"/>
<line x1="450.5" y1="1011.72" x2="664.9" y2="1011.72" stroke="#000" stroke-opacity="0.45" stroke-width="1"/>
<line x1="450.5" y1="990.28" x2="664.9" y2="990.28" stroke="#000" stroke-opacity="0.45" stroke-width="1"/>
<line x1="450.5" y1="968.84" x2="664.9" y2="968.84" stroke="#000" stroke-opacity="0.45" stroke-width="1"/>
<line x1="450.5" y1="947.4" x2="664.9" y2="947.4" stroke="#000" stroke-opacity="0.45" stroke-width="1"/>
<line x1="450.5" y1="925.96" x2="664.9" y2="925.96" stroke="#000" stroke-opacity="0.45" stroke-width="1"/>
<line x1="450.5" y1="904.52" x2="664.9" y2="904.52" stroke="#000" stroke-opacity="0.45" stroke-width="1"/>
<line x1="450.5" y1="883.08" x2="664.9" y2="883.08" stroke="#000" stroke-opacity="0.45" stroke-width="1"/>
<line x1="450.5" y1="861.64" x2="664.9" y2="861.64" stroke="#000" stroke-opacity="0.45" stroke-width="1"/>
<rect x="450.5" y="840.2" width="214.4" height="214.4" fill="none" stroke="#8c8c8c" stroke-width="1"/>
<text x="0" y="0" font-size="14" text-anchor="end" font-weight="normal" fill="#000" stroke="#000" stroke-width="0.12" transform="translate(446 1058.7) scale(1 1.04)"><tspan>0</tspan></text>
<text x="0" y="0" font-size="14" text-anchor="end" font-weight="normal" fill="#000" stroke="#000" stroke-width="0.12" transform="translate(446 1037.26) scale(1 1.04)"><tspan>2</tspan></text>
<text x="0" y="0" font-size="14" text-anchor="end" font-weight="normal" fill="#000" stroke="#000" stroke-width="0.12" transform="translate(446 1015.82) scale(1 1.04)"><tspan>4</tspan></text>
<text x="0" y="0" font-size="14" text-anchor="end" font-weight="normal" fill="#000" stroke="#000" stroke-width="0.12" transform="translate(446 994.38) scale(1 1.04)"><tspan>6</tspan></text>
<text x="0" y="0" font-size="14" text-anchor="end" font-weight="normal" fill="#000" stroke="#000" stroke-width="0.12" transform="translate(446 972.94) scale(1 1.04)"><tspan>8</tspan></text>
<text x="0" y="0" font-size="14" text-anchor="end" font-weight="normal" fill="#000" stroke="#000" stroke-width="0.12" transform="translate(446 951.5) scale(1 1.04)"><tspan>10</tspan></text>
<text x="0" y="0" font-size="14" text-anchor="end" font-weight="normal" fill="#000" stroke="#000" stroke-width="0.12" transform="translate(446 930.06) scale(1 1.04)"><tspan>12</tspan></text>
<text x="0" y="0" font-size="14" text-anchor="end" font-weight="normal" fill="#000" stroke="#000" stroke-width="0.12" transform="translate(446 908.62) scale(1 1.04)"><tspan>14</tspan></text>
<text x="0" y="0" font-size="14" text-anchor="end" font-weight="normal" fill="#000" stroke="#000" stroke-width="0.12" transform="translate(446 887.18) scale(1 1.04)"><tspan>16</tspan></text>
<text x="0" y="0" font-size="14" text-anchor="end" font-weight="normal" fill="#000" stroke="#000" stroke-width="0.12" transform="translate(446 865.74) scale(1 1.04)"><tspan>18</tspan></text>
<text x="0" y="0" font-size="14" text-anchor="end" font-weight="normal" fill="#000" stroke="#000" stroke-width="0.12" transform="translate(446 844.3) scale(1 1.04)"><tspan>20</tspan></text>
<text x="0" y="0" font-size="14" text-anchor="middle" font-weight="normal" fill="#000" stroke="#000" stroke-width="0.12" transform="translate(450.5 1068.9) scale(1 1.04)"><tspan>0</tspan></text>
<text x="0" y="0" font-size="14" text-anchor="middle" font-weight="normal" fill="#000" stroke="#000" stroke-width="0.12" transform="translate(493.38 1068.9) scale(1 1.04)"><tspan>50</tspan></text>
<text x="0" y="0" font-size="14" text-anchor="middle" font-weight="normal" fill="#000" stroke="#000" stroke-width="0.12" transform="translate(536.26 1068.9) scale(1 1.04)"><tspan>100</tspan></text>
<text x="0" y="0" font-size="14" text-anchor="middle" font-weight="normal" fill="#000" stroke="#000" stroke-width="0.12" transform="translate(579.14 1068.9) scale(1 1.04)"><tspan>150</tspan></text>
<text x="0" y="0" font-size="14" text-anchor="middle" font-weight="normal" fill="#000" stroke="#000" stroke-width="0.12" transform="translate(622.02 1068.9) scale(1 1.04)"><tspan>200</tspan></text>
<text x="0" y="0" font-size="14" text-anchor="middle" font-weight="normal" fill="#000" stroke="#000" stroke-width="0.12" transform="translate(664.9 1068.9) scale(1 1.04)"><tspan>250</tspan></text>
<text x="0" y="0" font-size="14.5" text-anchor="middle" font-weight="normal" fill="#000" stroke="#000" stroke-width="0.12" transform="translate(562.7 1085.6) scale(1 1.04)"><tspan>OUTPUT CURRENT (mA)</tspan></text>
<text x="0" y="0" font-size="14.5" text-anchor="middle" font-weight="normal" fill="#000" stroke="#000" stroke-width="0.12" transform="translate(413 942) rotate(-90) scale(1 1.04)"><tspan>OUTPUT VOLTAGE RIPPLE (mV</tspan><tspan font-size="10.5" dy="6.8">PP</tspan><tspan dy="-6.8">)</tspan></text>
<text x="0" y="0" font-size="16.5" text-anchor="middle" font-weight="bold" fill="#000" transform="translate(556 813.6) scale(1 1.04)"><tspan>Output Voltage Ripple</tspan></text>
<text x="0" y="0" font-size="16.5" text-anchor="middle" font-weight="bold" fill="#000" transform="translate(556 833) scale(1 1.04)"><tspan>vs. Load Current</tspan></text>
<rect x="562.8" y="844.4" width="92.1" height="83.3" fill="#fff"/>
<polyline points="450.5,956.1 453.9,957.2 459.4,960.5 470.5,965 481.6,967.7 492.7,970.5 507.2,975.5 522.7,979.4 536,985.5 547.1,992.2 550,993.3 562.2,1002 577.8,992.2 588.3,986.6 599.4,976.6 603.3,970.5 623.3,947.2 627.7,945.8 648.2,940.5" fill="none" stroke="#1c10c4" stroke-width="2.2" stroke-linejoin="round" stroke-linecap="round"/>
<text x="0" y="0" font-size="14" text-anchor="start" font-weight="normal" fill="#000" stroke="#000" stroke-width="0.12" transform="translate(566.1 856.6) scale(1 1.04)"><tspan>V</tspan><tspan font-size="9.45" dy="6.8">IN</tspan><tspan dy="-6.8"> = 2.5V</tspan></text>
<text x="0" y="0" font-size="14" text-anchor="start" font-weight="normal" fill="#000" stroke="#000" stroke-width="0.12" transform="translate(566.1 880) scale(1 1.04)"><tspan>V</tspan><tspan font-size="10.5" dy="6.8">OUT</tspan><tspan dy="-6.8"> = 5V</tspan></text>
<text x="0" y="0" font-size="14" text-anchor="start" font-weight="normal" fill="#000" stroke="#000" stroke-width="0.12" transform="translate(566.1 900) scale(1 1.04)"><tspan>L = 10µH</tspan></text>
<text x="0" y="0" font-size="14" text-anchor="start" font-weight="normal" fill="#000" stroke="#000" stroke-width="0.12" transform="translate(566.1 916) scale(1 1.04)"><tspan>C</tspan><tspan font-size="10.5" dy="6.8">OUT</tspan><tspan dy="-6.8"> = 22µF</tspan></text>
<rect x="225.8" y="330.8" width="66.2" height="18.4" fill="#fff"/>
<text x="0" y="0" font-size="14.2" text-anchor="start" font-weight="normal" fill="#000" stroke="#000" stroke-width="0.12" transform="translate(229.2 344.6) scale(1 1.04)"><tspan>L = 10µH</tspan></text>
<rect x="592" y="333" width="69.8" height="17.5" fill="#fff"/>
<text x="0" y="0" font-size="14.2" text-anchor="start" font-weight="normal" fill="#000" stroke="#000" stroke-width="0.12" transform="translate(595.5 346.8) scale(1 1.04)"><tspan>L = 10µH</tspan></text>
<rect x="963" y="331" width="67.5" height="18.4" fill="#fff"/>
<text x="0" y="0" font-size="14.2" text-anchor="start" font-weight="normal" fill="#000" stroke="#000" stroke-width="0.12" transform="translate(966.5 344.8) scale(1 1.04)"><tspan>L = 10µH</tspan></text>
</svg></body></html>
